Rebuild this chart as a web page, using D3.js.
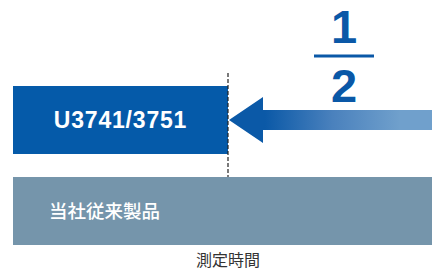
<!DOCTYPE html>
<html>
<head>
<meta charset="utf-8">
<script src="https://cdn.jsdelivr.net/npm/d3@7"></script>
<style>
  body { margin: 0; background: #fff; }
  svg { display: block; }
</style>
</head>
<body>
<script>
var categories = ["U3741/3751", "当社従来製品"];
var values = [1, 2];           // relative measurement time
var ratioLabels = ["1", "2"];  // the "1/2" annotation
var axisLabel = "測定時間";

function init() {
    var w = 432;
    var h = 271;

    var svg = d3.select("body")
        .append("svg")
        .attr("width", w)
        .attr("height", h);

    // x: measurement time, 1 unit = 215px
    var x = d3.scaleLinear()
        .domain([0, 2])
        .range([13, 443]);

    var y = d3.scaleBand()
        .domain(categories)
        .range([86, 245])
        .paddingInner(0.253)
        .paddingOuter(0);

    var colors = ["#055aa9", "#7595ab"];

    // gradient for the arrow
    var grad = svg.append("defs")
        .append("linearGradient")
        .attr("id", "arrowGrad")
        .attr("gradientUnits", "userSpaceOnUse")
        .attr("x1", 265).attr("x2", 400)
        .attr("y1", 0).attr("y2", 0);
    grad.append("stop").attr("offset", 0).attr("stop-color", "#0b59a7");
    grad.append("stop").attr("offset", 0.5).attr("stop-color", "#4a81bd");
    grad.append("stop").attr("offset", 1).attr("stop-color", "#70a0cc");

    // bars
    svg.selectAll("rect.bar")
        .data(categories)
        .enter()
        .append("rect")
        .attr("class", "bar")
        .attr("x", x(0))
        .attr("y", function(d) { return y(d); })
        .attr("width", function(d, i) { return x(values[i]) - x(0); })
        .attr("height", y.bandwidth())
        .attr("fill", function(d, i) { return colors[i]; });

    // bar labels
    svg.append("text")
        .attr("x", (x(0) + x(values[0])) / 2)
        .attr("y", y(categories[0]) + y.bandwidth() / 2)
        .attr("dy", "0.36em")
        .attr("text-anchor", "middle")
        .attr("fill", "#fff")
        .style("font-family", "'Liberation Sans', Arial, sans-serif")
        .style("font-weight", "bold")
        .style("font-size", "23px")
        .style("letter-spacing", "0.8px")
        .text(categories[0]);

    svg.append("text")
        .attr("x", x(0) + 36)
        .attr("y", y(categories[1]) + y.bandwidth() / 2)
        .attr("dy", "0.36em")
        .attr("fill", "#fff")
        .style("font-family", "'Noto Sans CJK JP', sans-serif")
        .style("font-weight", "500")
        .style("font-size", "18.5px")
        .text(categories[1]);

    // dashed marker at the end of the short bar
    var xm = x(values[0]);
    svg.append("line")
        .attr("x1", xm).attr("x2", xm)
        .attr("y1", 73).attr("y2", y(categories[1]))
        .attr("stroke", "#222")
        .attr("stroke-width", 1.2)
        .attr("stroke-dasharray", "4,2");

    // arrow from the long bar's end back to the short one
    var ay = 120;
    var arrow = d3.path();
    arrow.moveTo(xm + 1, ay);
    arrow.lineTo(xm + 35, ay - 23);
    arrow.lineTo(xm + 35, ay - 10);
    arrow.lineTo(w, ay - 10);
    arrow.lineTo(w, ay + 10);
    arrow.lineTo(xm + 35, ay + 10);
    arrow.lineTo(xm + 35, ay + 23);
    arrow.closePath();
    svg.append("path")
        .attr("d", arrow.toString())
        .attr("fill", "url(#arrowGrad)");

    // 1/2 fraction
    var fx = 344;
    var frac = svg.append("g")
        .attr("fill", "#0a58a7")
        .style("font-family", "'Liberation Sans', Arial, sans-serif")
        .style("font-weight", "bold")
        .style("font-size", "47px")
        .attr("text-anchor", "middle");
    frac.append("text").attr("x", fx).attr("y", 43).text(ratioLabels[0]);
    frac.append("text").attr("x", fx).attr("y", 102).text(ratioLabels[1]);
    svg.append("line")
        .attr("x1", fx - 30).attr("x2", fx + 30)
        .attr("y1", 56).attr("y2", 56)
        .attr("stroke", "#0a58a7")
        .attr("stroke-width", 3);

    // axis label
    svg.append("text")
        .attr("x", xm)
        .attr("y", 266)
        .attr("text-anchor", "middle")
        .attr("fill", "#333")
        .style("font-family", "'Noto Sans CJK JP', sans-serif")
        .style("font-size", "16px")
        .text(axisLabel);
}

window.onload = init;
</script>
</body>
</html>
